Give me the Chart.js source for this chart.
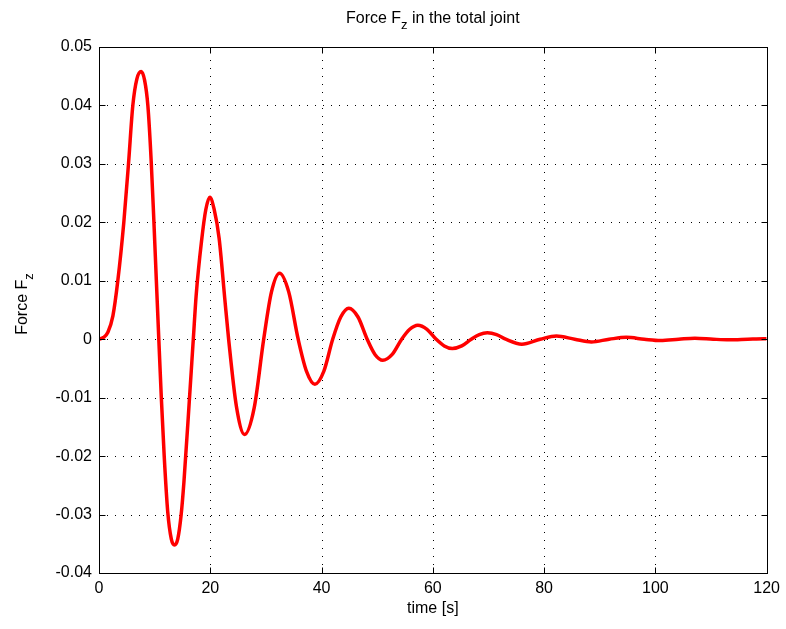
<!DOCTYPE html>
<html>
<head>
<meta charset="utf-8">
<script src="https://cdn.jsdelivr.net/npm/chart.js@4.4.1/dist/chart.umd.min.js"></script>
<style>
  body { margin: 0; background: #fff; }
  #wrap { width: 786px; height: 629px; }
</style>
</head>
<body>
<div id="wrap"><canvas id="fzChart" width="786" height="629"></canvas></div>
<script>
// values
const timeS = [
  0, 0.8, 1.6, 2.5, 3.38, 4.46, 5.3, 6.08, 6.8, 7.58, 8.2, 8.78, 9.38, 9.85, 10.3, 10.75,
  11.2, 11.72, 12.35, 13.0, 13.57, 14.15, 14.77, 15.26, 16.27, 16.95, 17.47, 18.43,
  19.2, 19.92, 20.7, 21.6, 22.6, 23.3, 24.7, 26.16, 27.9, 29.6,
  31.0, 32.45, 34.1, 35.8, 37.3, 38.8, 40.4, 42.0, 43.45, 44.9, 46.55, 48.2,
  49.6, 51.0, 52.7, 54.4, 55.85, 57.3, 58.95, 60.6, 62.05, 63.5, 65.2, 66.9,
  68.35, 69.8, 71.45, 73.1, 76.0, 79.3, 82.2, 85.5, 88.5, 91.7, 94.8, 98.0,
  100.9, 104.2, 107.1, 110.4, 113.3, 116.6, 119.5, 120
];
const forceFz = [
  0, 0.0003, 0.0012, 0.0040, 0.0100, 0.0200, 0.0300, 0.0400, 0.0445, 0.0458, 0.0443, 0.0400,
  0.0305, 0.0205, 0.0102, 0,
  -0.0100, -0.0200, -0.0295, -0.0342, -0.0352, -0.0342, -0.0300, -0.0245, -0.0100, 0, 0.0076, 0.0168,
  0.0222, 0.0243, 0.0222, 0.0172, 0.0070, 0, -0.0115, -0.0163, -0.0117, 0,
  0.0081, 0.0113, 0.0081, 0, -0.0055, -0.0077, -0.0055, 0, 0.0038, 0.0053, 0.0038, 0,
  -0.0026, -0.0036, -0.0026, 0, 0.0017, 0.0024, 0.0017, 0, -0.00115, -0.0016, -0.00115, 0,
  0.0008, 0.0011, 0.0008, 0, -0.00085, 0, 0.00056, 0, -0.00046, 0, 0.00032, 0,
  -0.00022, 0, 0.00018, 0, -0.00010, 0, 0.00008, 0.00006
];
const xTicks = [0, 20, 40, 60, 80, 100, 120];
const yTicks = [-0.04, -0.03, -0.02, -0.01, 0, 0.01, 0.02, 0.03, 0.04, 0.05];

const FONT = "'Liberation Sans', Arial, sans-serif";

const points = timeS.map((t, i) => ({ x: t, y: forceFz[i] }));

const fmtY = (v) => {
  if (Math.abs(v) < 1e-9) return "0";
  return v.toFixed(2);
};

// matlab style box, inward ticks, dotted grid, subscripted title/label
const matlabAxes = {
  id: "matlabAxes",
  beforeDatasetsDraw(chart) {
    const { ctx, chartArea: a, scales } = chart;
    ctx.save();
    ctx.strokeStyle = "#000";
    ctx.lineWidth = 1;
    ctx.setLineDash([1, 7]);
    xTicks.forEach((t) => {
      const px = Math.round(scales.x.getPixelForValue(t)) + 0.5;
      ctx.beginPath();
      ctx.moveTo(px, a.bottom);
      ctx.lineTo(px, a.top);
      ctx.stroke();
    });
    yTicks.forEach((t) => {
      const py = Math.round(scales.y.getPixelForValue(t)) + 0.5;
      ctx.beginPath();
      ctx.moveTo(a.left, py);
      ctx.lineTo(a.right, py);
      ctx.stroke();
    });
    ctx.restore();
  },
  afterDraw(chart) {
    const { ctx, chartArea: a, scales } = chart;
    ctx.save();
    ctx.strokeStyle = "#000";
    ctx.lineWidth = 1;
    ctx.setLineDash([]);
    const L = Math.round(a.left) + 0.5, R = Math.round(a.right) + 0.5;
    const T = Math.round(a.top) + 0.5, B = Math.round(a.bottom) + 0.5;
    ctx.strokeRect(L, T, R - L, B - T);
    const tl = 6;
    ctx.beginPath();
    xTicks.forEach((t) => {
      const px = Math.round(scales.x.getPixelForValue(t)) + 0.5;
      ctx.moveTo(px, B); ctx.lineTo(px, B - tl);
      ctx.moveTo(px, T); ctx.lineTo(px, T + tl);
    });
    yTicks.forEach((t) => {
      const py = Math.round(scales.y.getPixelForValue(t)) + 0.5;
      ctx.moveTo(L, py); ctx.lineTo(L + tl, py);
      ctx.moveTo(R, py); ctx.lineTo(R - tl, py);
    });
    ctx.stroke();

    // title with subscript
    ctx.fillStyle = "#000";
    ctx.textBaseline = "alphabetic";
    const big = "16px " + FONT, small = "13px " + FONT;
    const p1 = "Force F", p2 = "z", p3 = " in the total joint";
    ctx.font = big;
    const w1 = ctx.measureText(p1).width, w3 = ctx.measureText(p3).width;
    ctx.font = small;
    const w2 = ctx.measureText(p2).width;
    const cx = (a.left + a.right) / 2;
    let x0 = cx - (w1 + w2 + w3) / 2;
    const ty = 23;
    ctx.textAlign = "left";
    ctx.font = big; ctx.fillText(p1, x0, ty);
    ctx.font = small; ctx.fillText(p2, x0 + w1, ty + 6);
    ctx.font = big; ctx.fillText(p3, x0 + w1 + w2, ty);

    // x label
    ctx.textAlign = "center";
    ctx.font = big;
    ctx.fillText("time [s]", cx, 613);

    // y label rotated with subscript
    const q1 = "Force F", q2 = "z";
    ctx.font = big;
    const v1 = ctx.measureText(q1).width;
    ctx.font = small;
    const v2 = ctx.measureText(q2).width;
    ctx.translate(27, (a.top + a.bottom) / 2 - 6);
    ctx.rotate(-Math.PI / 2);
    ctx.textAlign = "left";
    const s0 = -(v1 + v2) / 2;
    ctx.font = big; ctx.fillText(q1, s0, 0);
    ctx.font = small; ctx.fillText(q2, s0 + v1, 6);
    ctx.restore();
  }
};

new Chart(document.getElementById("fzChart"), {
  type: "line",
  data: {
    datasets: [{
      data: points,
      borderColor: "#ff0000",
      borderWidth: 3.5,
      pointRadius: 0,
      fill: false,
      cubicInterpolationMode: "monotone"
    }]
  },
  options: {
    responsive: false,
    animation: false,
    events: [],
    layout: { padding: { top: 47, right: 19, left: 0, bottom: 0 } },
    plugins: { legend: { display: false }, tooltip: { enabled: false }, title: { display: false } },
    scales: {
      x: {
        type: "linear",
        min: 0, max: 120,
        afterBuildTicks: (s) => { s.ticks = xTicks.map((v) => ({ value: v })); },
        afterFit: (s) => { s.height = 56; },
        grid: { display: false, drawTicks: false },
        border: { display: false },
        ticks: { color: "#000", font: { family: FONT, size: 16 }, padding: 6, maxRotation: 0 }
      },
      y: {
        type: "linear",
        min: -0.04, max: 0.05,
        afterBuildTicks: (s) => { s.ticks = yTicks.map((v) => ({ value: v })); },
        afterFit: (s) => { s.width = 99; },
        grid: { display: false, drawTicks: false },
        border: { display: false },
        ticks: { color: "#000", font: { family: FONT, size: 16 }, padding: 7, callback: (v) => fmtY(v) }
      }
    }
  },
  plugins: [matlabAxes]
});
</script>
</body>
</html>
